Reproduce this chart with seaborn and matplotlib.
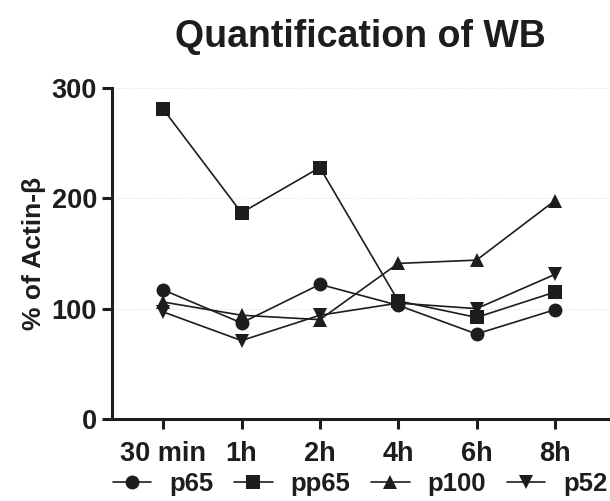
import matplotlib
matplotlib.use("Agg")
import matplotlib.pyplot as plt
import seaborn as sns
import pandas as pd

# data
time_points = ["30 min", "1h", "2h", "4h", "6h", "8h"]
p65 = [117, 87, 122, 103, 77, 99]
pp65 = [281, 187, 228, 107, 92, 115]
p100 = [106, 94, 90, 141, 144, 198]
p52 = [97, 71, 94, 105, 100, 131]
series_names = ["p65", "pp65", "p100", "p52"]

rows = []
for name, vals in zip(series_names, [p65, pp65, p100, p52]):
    for t, v in zip(time_points, vals):
        rows.append({"time": t, "value": v, "protein": name})
df = pd.DataFrame(rows)

ink = "#1e1c1d"
sns.set_style("ticks")
plt.rcParams["font.family"] = ["Liberation Sans", "DejaVu Sans"]
plt.rcParams["font.weight"] = "bold"
plt.rcParams["text.color"] = ink
plt.rcParams["axes.labelcolor"] = ink
plt.rcParams["xtick.color"] = ink
plt.rcParams["ytick.color"] = ink
plt.rcParams["axes.edgecolor"] = ink

fig = plt.figure(figsize=(6.1, 5.01), dpi=100)
ax = fig.add_axes([0.184, 0.164, 0.813, 0.660])

markers = {"p65": "o", "pp65": "s", "p100": "^", "p52": "v"}
sns.lineplot(data=df, x="time", y="value", hue="protein", style="protein",
             markers=markers, dashes=False, palette=[ink] * 4,
             markersize=10, linewidth=1.2, markeredgewidth=0, sort=False,
             ax=ax, legend=True)

ax.set_ylim(0, 300)
ax.set_yticks([0, 100, 200, 300])
ax.set_xlim(-0.65, 5.68)
ax.yaxis.grid(True, linestyle=":", color="#dddddd", linewidth=0.8)
ax.set_axisbelow(True)

for s in ["top", "right"]:
    ax.spines[s].set_visible(False)
for s in ["left", "bottom"]:
    ax.spines[s].set_linewidth(2.2)
ax.tick_params(axis="both", width=2.2, length=7, labelsize=19.5, pad=4)
ax.tick_params(axis="x", pad=9)
for lab in ax.get_xticklabels() + ax.get_yticklabels():
    lab.set_fontweight("bold")

ax.set_xlabel("")
ax.set_ylabel("% of Actin-β", fontsize=19, fontweight="bold", labelpad=4)
ax.set_title("Quantification of WB", fontsize=27, fontweight="bold", pad=30)

handles, labels = ax.get_legend_handles_labels()
ax.legend(handles, labels, loc="upper center", bbox_to_anchor=(0.5, -0.152),
          ncol=4, frameon=False, handlelength=1.5,
          columnspacing=0.8, handletextpad=0.7, borderaxespad=0,
          borderpad=0.1, prop={"weight": "bold", "size": 18.5})

fig.savefig("out.png", dpi=100)
